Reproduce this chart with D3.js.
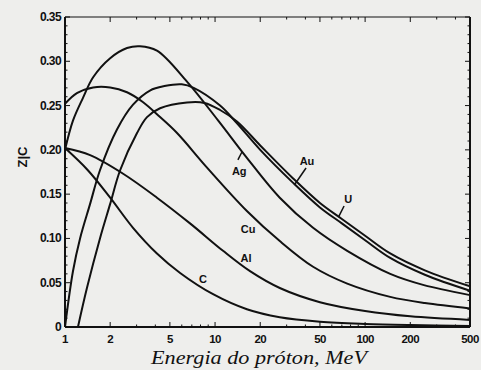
<!DOCTYPE html>
<html><head><meta charset="utf-8">
<script src="https://cdn.jsdelivr.net/npm/d3@7"></script>
<style>
html,body{margin:0;padding:0;background:#eeeeec;}
svg{display:block;}
</style></head>
<body>
<svg id="chart" width="481" height="370"></svg>
<script>
// ---- data (energy MeV, C/Z value) ----
const xTicks = [1, 2, 5, 10, 20, 50, 100, 200, 500];
const yTicks = [0, 0.05, 0.10, 0.15, 0.20, 0.25, 0.30, 0.35];
const yTickLabels = ["0", "0.05", "0.10", "0.15", "0.20", "0.25", "0.30", "0.35"];

const seriesC  = [[1,0.202],[1.42,0.177],[2,0.146],[2.84,0.112],[4.1,0.083],[5.85,0.061],[9.7,0.037],[16.3,0.020],[27,0.011],[50,0.006],[100,0.0035],[200,0.0022],[500,0.0012]];
const seriesAl = [[1,0.202],[1.47,0.194],[2.44,0.173],[4.1,0.146],[6.81,0.117],[11.3,0.086],[17.1,0.063],[27,0.044],[50,0.028],[100,0.018],[200,0.012],[500,0.008]];
const seriesCu = [[1,0.252],[1.2,0.264],[1.54,0.2705],[2,0.2705],[2.59,0.265],[3.3,0.254],[4.3,0.237],[5.58,0.219],[8.84,0.180],[16.3,0.131],[27,0.097],[45,0.068],[76,0.049],[147,0.034],[250,0.027],[500,0.021]];
const seriesAg = [[1,0.200],[1.13,0.233],[1.32,0.259],[1.54,0.282],[2,0.3035],[2.59,0.315],[3.16,0.317],[4.1,0.312],[6.5,0.277],[10.5,0.233],[16.3,0.191],[27,0.146],[45,0.112],[76,0.086],[147,0.060],[250,0.047],[500,0.036]];
const seriesAu = [[1,0.0],[1.13,0.063],[1.26,0.100],[1.47,0.139],[1.71,0.177],[2.22,0.223],[2.84,0.251],[3.68,0.267],[4.6,0.272],[6,0.274],[7.2,0.270],[10.8,0.250],[14,0.230],[20,0.200],[33,0.163],[50,0.135],[70,0.117],[100,0.098],[147,0.078],[250,0.059],[500,0.041]];
const seriesU  = [[1.22,0.0],[1.4,0.044],[1.71,0.100],[2.0,0.139],[2.33,0.177],[3.02,0.219],[3.52,0.237],[4.3,0.247],[6.5,0.2535],[8.5,0.253],[10.8,0.245],[14,0.232],[20,0.205],[33,0.168],[50,0.140],[70,0.122],[100,0.103],[147,0.083],[250,0.064],[500,0.046]];

const seriesNames = ["C", "Al", "Cu", "Ag", "Au", "U"];
// label anchor [E, value] and optional leader [[E,v],[E,v]]
const labelPos = [[8.3,0.0497],[16.1,0.0734],[16.6,0.106],[14.5,0.172],[41,0.183],[77.3,0.140]];
const leaders = [null, null, null, [[14.2,0.1886],[15.1,0.1976]], [[40.4,0.1795],[34.1,0.1615]], [[72.4,0.1366],[66.4,0.124]]];

const xTitle = "Energia do próton, MeV";
const yTitle = "Z|C";

// ---- drawing ----
const svg = d3.select("#chart");
const x = d3.scaleLog().domain([1, 500]).range([65, 470]);
const y = d3.scaleLinear().domain([0, 0.35]).range([327, 17]);

const ink = "#111";
const g = svg.append("g");

// frame
g.append("line").attr("x1", x(1)).attr("x2", x(500)).attr("y1", y(0.35)).attr("y2", y(0.35)).attr("stroke", ink).attr("stroke-width", 1.2);
g.append("line").attr("x1", x(500)).attr("x2", x(500)).attr("y1", y(0.35)).attr("y2", y(0)).attr("stroke", ink).attr("stroke-width", 2);
g.append("line").attr("x1", x(1)).attr("x2", x(1)).attr("y1", y(0.35)).attr("y2", y(0)).attr("stroke", ink).attr("stroke-width", 2);
g.append("line").attr("x1", x(1)).attr("x2", x(500)).attr("y1", y(0)).attr("y2", y(0)).attr("stroke", ink).attr("stroke-width", 2);

// y ticks (inward, both sides)
const yMinor = d3.range(0, 0.3501, 0.01);
yMinor.forEach(v => {
  const major = Math.abs(Math.round(v / 0.05) * 0.05 - v) < 1e-6;
  const len = major ? 5 : 2.5;
  g.append("line").attr("x1", x(1)).attr("x2", x(1) + len).attr("y1", y(v)).attr("y2", y(v)).attr("stroke", ink).attr("stroke-width", 1);
  g.append("line").attr("x1", x(500)).attr("x2", x(500) - len).attr("y1", y(v)).attr("y2", y(v)).attr("stroke", ink).attr("stroke-width", 1);
});
// x ticks (inward, bottom and top)
const xMinor = [];
[1, 10, 100].forEach(d => [1,2,3,4,5,6,7,8,9].forEach(k => { if (k * d <= 500) xMinor.push(k * d); }));
xMinor.forEach(v => {
  const major = xTicks.includes(v);
  const len = major ? 5 : 2.5;
  g.append("line").attr("x1", x(v)).attr("x2", x(v)).attr("y1", y(0)).attr("y2", y(0) - len).attr("stroke", ink).attr("stroke-width", 1);
  g.append("line").attr("x1", x(v)).attr("x2", x(v)).attr("y1", y(0.35)).attr("y2", y(0.35) + len).attr("stroke", ink).attr("stroke-width", 1);
});

// tick labels
const tickFont = "'Liberation Sans', Arial, sans-serif";
g.selectAll(".yl").data(yTicks).enter().append("text")
  .attr("x", x(1) - 4).attr("y", d => y(d) + 4)
  .attr("text-anchor", "end").attr("font-family", tickFont).attr("font-weight", "bold")
  .attr("font-size", 12).attr("letter-spacing", -0.6).attr("fill", ink)
  .text((d, i) => yTickLabels[i]);
g.selectAll(".xl").data(xTicks).enter().append("text")
  .attr("x", d => x(d)).attr("y", 343)
  .attr("text-anchor", "middle").attr("font-family", tickFont).attr("font-weight", "bold")
  .attr("font-size", 11.5).attr("letter-spacing", -0.6).attr("fill", ink)
  .text(d => d);

// titles
g.append("text").attr("x", 259).attr("y", 364).attr("text-anchor", "middle")
  .attr("font-family", "'Liberation Serif', 'Times New Roman', serif").attr("font-style", "italic")
  .attr("font-size", 18).attr("fill", ink).attr("textLength", 216).attr("lengthAdjust", "spacingAndGlyphs")
  .text(xTitle);
g.append("text").attr("transform", "translate(27,157) rotate(-90)").attr("text-anchor", "middle")
  .attr("font-family", tickFont).attr("font-weight", "bold").attr("font-size", 13).attr("fill", ink)
  .text(yTitle);

// curves
const line = d3.line().x(d => x(d[0])).y(d => y(d[1])).curve(d3.curveCatmullRom.alpha(0.5));
const allSeries = [seriesC, seriesAl, seriesCu, seriesAg, seriesAu, seriesU];
g.selectAll(".curve").data(allSeries).enter().append("path")
  .attr("d", line).attr("fill", "none").attr("stroke", ink).attr("stroke-width", 2)
  .attr("stroke-linejoin", "round");

// labels
g.selectAll(".lab").data(seriesNames).enter().append("text")
  .attr("x", (d, i) => x(labelPos[i][0])).attr("y", (d, i) => y(labelPos[i][1]))
  .attr("text-anchor", "middle").attr("font-family", tickFont).attr("font-weight", "bold")
  .attr("font-size", 11).attr("fill", ink).text(d => d);
leaders.forEach(l => {
  if (!l) return;
  g.append("line").attr("x1", x(l[0][0])).attr("y1", y(l[0][1])).attr("x2", x(l[1][0])).attr("y2", y(l[1][1]))
    .attr("stroke", ink).attr("stroke-width", 1.5);
});
</script>
</body></html>
